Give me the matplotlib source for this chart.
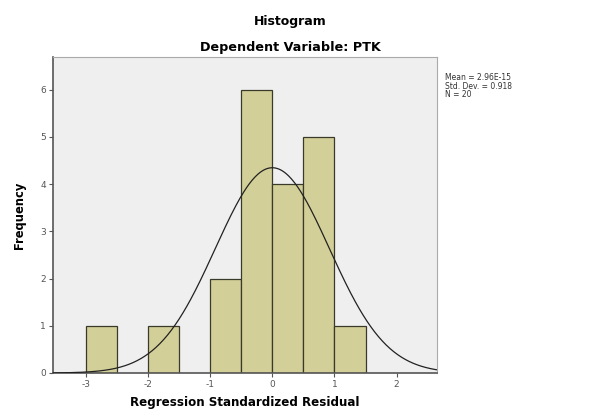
import numpy as np
import matplotlib
matplotlib.use('Agg')
import matplotlib.pyplot as plt

plt.rcParams['axes.unicode_minus'] = False

# histogram bins (left edges) and counts
bin_left = [-3.0, -2.0, -1.0, -0.5, 0.0, 0.5, 1.0]
counts = [1, 1, 2, 6, 4, 5, 1]
bin_width = 0.5

# normal curve stats (from the legend text)
mean = 2.96e-15
std = 0.918
n = 20

xticks = [-3, -2, -1, 0, 1, 2]
yticks = [0, 1, 2, 3, 4, 5, 6]

fig = plt.figure(figsize=(6.06, 4.12), dpi=100)
ax = fig.add_axes([53/606, 1-373/412, (437-53)/606, (373-57)/412])
ax.set_facecolor('#efefef')

ax.bar(bin_left, counts, width=bin_width, align='edge',
       color='#d3cf98', edgecolor='#3a3a2a', linewidth=0.9, zorder=2)

xs = np.linspace(-3.53, 2.65, 400)
pdf = n * bin_width / (std * np.sqrt(2*np.pi)) * np.exp(-0.5*((xs-mean)/std)**2)
ax.plot(xs, pdf, color='#222222', linewidth=0.9, zorder=3)

ax.set_xlim(-3.53, 2.65)
ax.set_ylim(0, 6.69)
ax.set_xticks(xticks)
ax.set_yticks(yticks)
ax.tick_params(labelsize=6.5, colors='#555555', length=3, width=0.8, pad=2)

for s in ['top', 'right']:
    ax.spines[s].set_color('#aaaaaa')
for s in ['left', 'bottom']:
    ax.spines[s].set_color('#555555')
    ax.spines[s].set_linewidth(1.2)

ax.set_xlabel('Regression Standardized Residual', fontsize=8.6, fontweight='bold', labelpad=5)
ax.set_ylabel('Frequency', fontsize=8.3, fontweight='bold', labelpad=10)

fig.text(290/606, 1-22/412, 'Histogram', ha='center', va='center', fontsize=9, fontweight='bold')
fig.text(290/606, 1-48/412, 'Dependent Variable: PTK', ha='center', va='center', fontsize=9.2, fontweight='bold')

fig.text(445/606, 1-73/412, 'Mean = 2.96E-15\nStd. Dev. = 0.918\nN = 20',
         ha='left', va='top', fontsize=5.5, color='#333333', linespacing=0.95)

fig.savefig('out.png', dpi=100)
